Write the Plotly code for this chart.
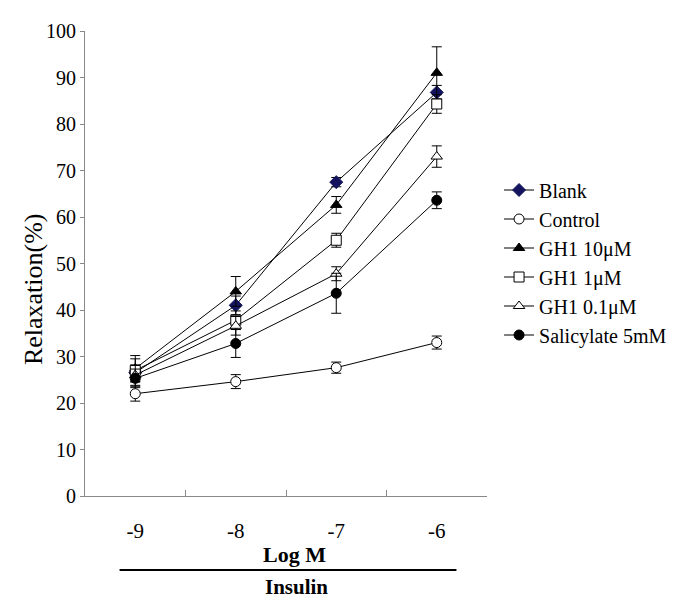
import plotly.graph_objects as go

doses = ["-9", "-8", "-7", "-6"]

blank = [26.5, 41.0, 67.5, 86.8]
blank_err = [1.5, 2.0, 1.0, 1.5]

control = [22.0, 24.6, 27.6, 33.0]
control_err = [1.6, 1.5, 1.2, 1.4]

gh1_10 = [27.4, 44.0, 62.6, 91.0]
gh1_10_err = [2.8, 3.2, 1.8, 5.6]

gh1_1 = [27.0, 37.8, 55.0, 84.3]
gh1_1_err = [2.5, 2.0, 1.5, 2.0]

gh1_01 = [26.0, 36.6, 47.8, 73.0]
gh1_01_err = [2.2, 2.0, 1.5, 2.3]

salicylate = [25.3, 32.8, 43.6, 63.6]
salicylate_err = [2.0, 3.0, 4.3, 1.8]

y_ticks = list(range(0, 101, 10))

series = [
    ("Blank", blank, blank_err, "diamond", "#14145e", "#14145e"),
    ("Control", control, control_err, "circle", "white", "black"),
    ("GH1 10\u03bcM", gh1_10, gh1_10_err, "triangle-up", "black", "black"),
    ("GH1 1\u03bcM", gh1_1, gh1_1_err, "square", "white", "black"),
    ("GH1 0.1\u03bcM", gh1_01, gh1_01_err, "triangle-up", "white", "black"),
    ("Salicylate 5mM", salicylate, salicylate_err, "circle", "black", "black"),
]

FONT = "Liberation Serif, Times New Roman, serif"

fig = go.Figure()
for name, vals, errs, sym, fill, edge in series:
    fig.add_trace(go.Scatter(
        x=doses, y=vals, name=name, mode="lines+markers",
        line=dict(color="black", width=1),
        marker=dict(symbol=sym, size=10, color=fill, line=dict(color=edge, width=1)),
        error_y=dict(type="data", array=errs, visible=True, color="black", thickness=1, width=5),
    ))

fig.update_layout(
    width=676, height=599,
    paper_bgcolor="white", plot_bgcolor="white",
    margin=dict(l=77, r=193, t=17, b=111),
    font=dict(family=FONT, color="black", size=20),
    showlegend=True,
    legend=dict(x=1.03, y=0.70, xanchor="left", yanchor="top",
                font=dict(family=FONT, size=20, color="black"),
                bgcolor="rgba(0,0,0,0)", itemwidth=30),
    xaxis=dict(type="category", range=[-0.5, 3.5], showgrid=False, zeroline=False,
               showline=True, linecolor="#888888", linewidth=1,
               ticks="inside", tickson="boundaries", ticklen=6, tickcolor="#888888",
               tickfont=dict(family=FONT, size=21, color="black"), ticklabelstandoff=16),
    yaxis=dict(range=[0, 100], tickvals=y_ticks, showgrid=False, zeroline=False,
               showline=True, linecolor="#888888", linewidth=1,
               ticks="outside", ticklen=4, tickcolor="#888888",
               tickfont=dict(family=FONT, size=20, color="black")),
    annotations=[
        dict(text="Relaxation(%)", x=-0.128, y=0.444, xref="paper", yref="paper",
             textangle=-90, showarrow=False, font=dict(family=FONT, size=26, color="black"),
             xanchor="center", yanchor="middle"),
        dict(text="<b>Log M</b>", x=0.52, y=-0.125, xref="paper", yref="paper",
             showarrow=False, font=dict(family=FONT, size=22, color="black"),
             xanchor="center", yanchor="middle"),
        dict(text="<b>Insulin</b>", x=0.525, y=-0.195, xref="paper", yref="paper",
             showarrow=False, font=dict(family=FONT, size=21, color="black"),
             xanchor="center", yanchor="middle"),
    ],
    shapes=[dict(type="line", xref="paper", yref="paper", x0=0.086, x1=0.924,
                 y0=-0.159, y1=-0.159, line=dict(color="black", width=2))],
)

fig.write_html("out.html")
